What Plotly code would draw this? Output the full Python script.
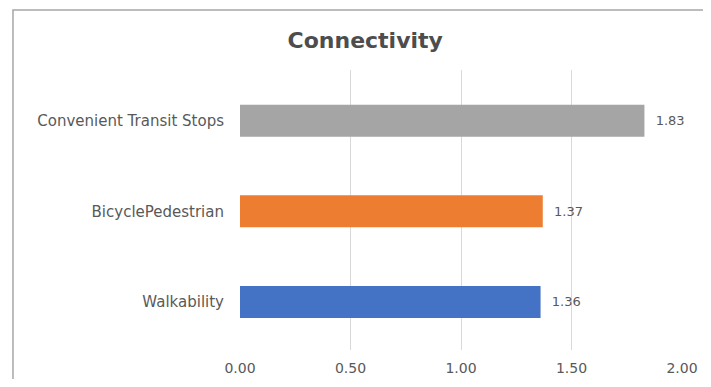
import plotly.graph_objects as go

categories = ["Walkability", "BicyclePedestrian", "Convenient Transit Stops"]
values = [1.36, 1.37, 1.83]
colors = ["#4472C4", "#ED7D31", "#A5A5A5"]
tick_vals = [0, 0.5, 1.0, 1.5, 2.0]

FONT = "DejaVu Sans"
GREY = "#595959"

fig = go.Figure(go.Bar(
    x=values,
    y=categories,
    orientation="h",
    marker=dict(color=colors, line=dict(width=0)),
    text=[f"  {v:.2f}" for v in values],
    textposition="outside",
    textfont=dict(family=FONT, size=13, color=GREY),
    cliponaxis=False,
    width=0.353,
))

# the page body has an 8px margin; size the figure so it fits the window
fig.update_layout(
    width=695,
    height=371,
    margin=dict(l=232, r=21, t=62, b=29, autoexpand=False),
    paper_bgcolor="white",
    plot_bgcolor="white",
    showlegend=False,
    title=dict(
        text="<b>Connectivity</b>",
        x=0.514, xanchor="center",
        y=0.914, yanchor="middle",
        font=dict(family=FONT, size=22, color="#4D4D4D"),
    ),
    xaxis=dict(
        range=[0, 2.0],
        tickvals=tick_vals,
        tickformat=".2f",
        showgrid=True,
        gridcolor="#D9D9D9",
        gridwidth=1,
        zeroline=False,
        showline=False,
        automargin=False,
        tickfont=dict(family=FONT, size=14, color=GREY),
        ticks="",
        ticklabelstandoff=8,
    ),
    yaxis=dict(
        range=[-0.53, 2.56],
        showgrid=False,
        showline=False,
        zeroline=False,
        automargin=False,
        ticks="",
        ticklabelstandoff=15,
        tickfont=dict(family=FONT, size=15, color=GREY),
    ),
    shapes=[dict(
        type="rect", xref="paper", yref="paper",
        x0=-0.5136, x1=1.1, y0=-0.3, y1=1.214,
        line=dict(color="#A6A6A6", width=1.5),
        fillcolor="rgba(0,0,0,0)",
        layer="below",
    )],
)

fig.write_html("out.html")
